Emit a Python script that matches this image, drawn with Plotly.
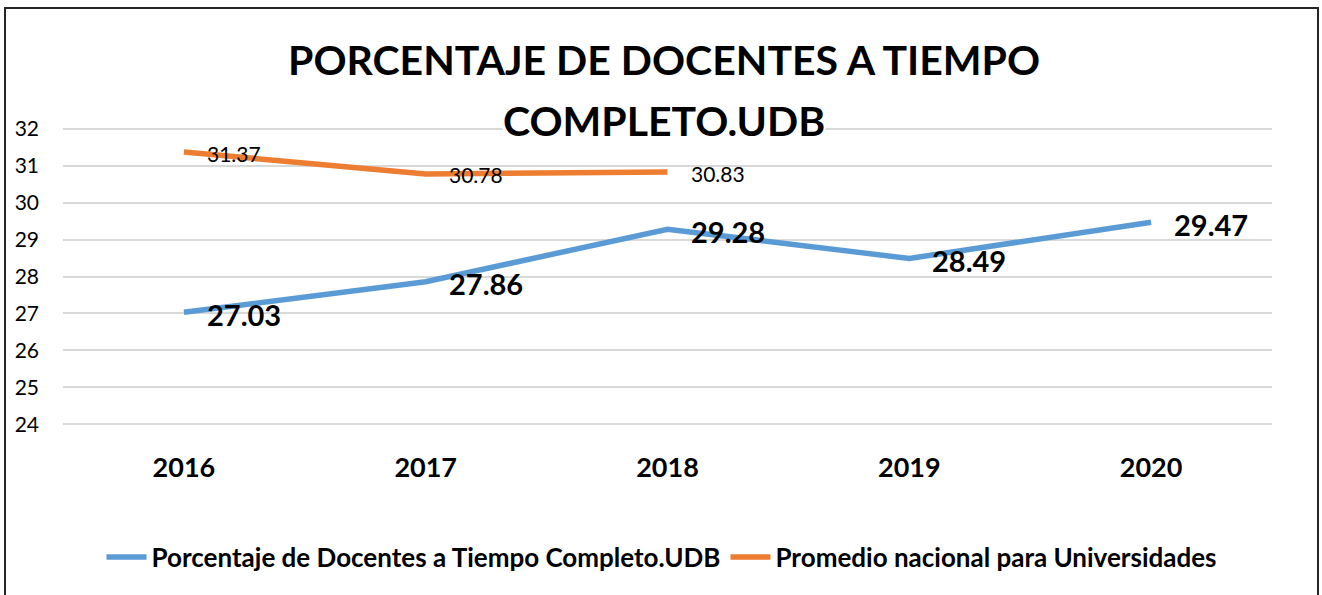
import plotly.graph_objects as go

years = ["2016", "2017", "2018", "2019", "2020"]
udb_values = [27.03, 27.86, 29.28, 28.49, 29.47]
nacional_years = ["2016", "2017", "2018"]
nacional_values = [31.37, 30.78, 30.83]
y_ticks = [24, 25, 26, 27, 28, 29, 30, 31, 32]

udb_name = "Porcentaje de Docentes a Tiempo Completo.UDB"
nac_name = "Promedio nacional para Universidades"
title_lines = ["PORCENTAJE DE DOCENTES A TIEMPO", "COMPLETO.UDB"]

BLUE = "#5b9bd5"
ORANGE = "#ed7d31"
FONT = "Lato"

W, H = 1322, 595
L, R, T, B = 63, 50, 127, 169

fig = go.Figure()
fig.add_trace(go.Scatter(x=years, y=udb_values, mode="lines", name=udb_name,
                         line=dict(color=BLUE, width=5.5)))
fig.add_trace(go.Scatter(x=nacional_years, y=nacional_values, mode="lines", name=nac_name,
                         line=dict(color=ORANGE, width=5.5)))

pw = W - L - R
ph = H - T - B
def px_x(p):
    return (p - L) / pw
def px_y(p):
    return (H - B - p) / ph

annotations = []
for i, v in enumerate(udb_values):
    annotations.append(dict(x=i, y=v, xref="x", yref="y", text=f"{v:.2f}",
                            showarrow=False, xanchor="left", yanchor="middle",
                            xshift=21, yshift=-2,
                            font=dict(family=FONT, size=29, color="black", weight="bold")))
for i, v in enumerate(nacional_values):
    annotations.append(dict(x=i, y=v, xref="x", yref="y", text=f"{v:.2f}",
                            showarrow=False, xanchor="left", yanchor="middle",
                            xshift=21, yshift=-1,
                            font=dict(family=FONT, size=21, color="black")))
# title lines
for line, yc in zip(title_lines, [60, 120]):
    annotations.append(dict(x=px_x(664), y=px_y(yc), xref="paper", yref="paper", text=line,
                            showarrow=False, xanchor="center", yanchor="middle",
                            bgcolor="white", borderpad=0,
                            font=dict(family=FONT, size=41, color="black", weight="bold")))

fig.update_layout(
    width=W, height=H,
    margin=dict(l=L, r=R, t=T, b=B),
    paper_bgcolor="white", plot_bgcolor="white",
    xaxis=dict(type="category", range=[-0.5, 4.5], showgrid=False, zeroline=False, showline=False,
               ticks="", ticklabelstandoff=23,
               tickfont=dict(family=FONT, size=27, color="black", weight="bold")),
    yaxis=dict(range=[23.95, 32.05], tickvals=y_ticks, showgrid=True, gridcolor="#d9d9d9",
               gridwidth=1.5, zeroline=False, showline=False, ticks="",
               ticklabelstandoff=23,
               tickfont=dict(family=FONT, size=21, color="black")),
    legend=dict(orientation="h", x=px_x(662), xanchor="center", y=px_y(557), yanchor="middle",
                font=dict(family=FONT, size=26, color="black", weight="bold"),
                itemwidth=40, tracegroupgap=0),
    annotations=annotations,
    shapes=[dict(type="rect", xref="paper", yref="paper",
                 x0=px_x(5), x1=px_x(1318), y0=px_y(600), y1=px_y(8),
                 line=dict(color="#262626", width=2), fillcolor="rgba(0,0,0,0)", layer="above")],
)

fig.write_html("out.html", config={"displayModeBar": False},
               post_script="document.body.style.margin='0';")
